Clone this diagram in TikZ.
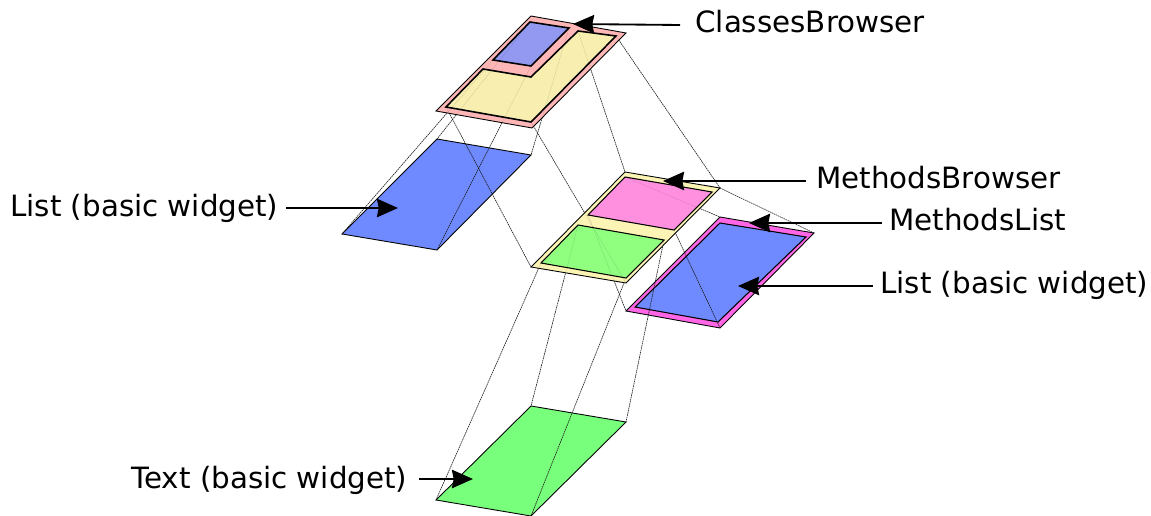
\documentclass[tikz,border=0pt]{standalone}
\usepackage{fontspec}
\setmainfont{DejaVu Sans}
\usetikzlibrary{arrows.meta}
\definecolor{listblue}{HTML}{6F8AFF}
\definecolor{textgreen}{HTML}{78FF7C}
\definecolor{browserpink}{HTML}{FFB6B6}
\definecolor{browseryellow}{HTML}{F8EEB0}
\definecolor{methodyellow}{HTML}{FCF4B4}
\definecolor{innerblue}{HTML}{9399F0}
\definecolor{innerpink}{HTML}{FF90E0}
\definecolor{innergreen}{HTML}{90FF80}
\definecolor{listmagenta}{HTML}{FF66E6}
\tikzset{
	widget/.style={draw=black, line width=0.5pt, line join=miter},
	upper/.style={widget, line width=0.9pt},
	link/.style={line width=0.32pt, dash pattern=on 0.9pt off 0.4pt, black!90},
	callout/.style={line width=1.05pt, -{Stealth[length=12pt, width=10.5pt, inset=1pt]}},
	caption/.style={font=\fontsize{16.7}{16.7}\selectfont, inner sep=0pt, anchor=base west}
}
\begin{document}
\begin{tikzpicture}[x=0.02cm, y=-0.02cm]
	\useasboundingbox (0, 0) rectangle (1151, 516);
	%%%%% corners %%%%%
	\coordinate (classA) at (531, 16);
	\coordinate (classB) at (626, 33);
	\coordinate (classC) at (532, 128);
	\coordinate (classD) at (436, 111);
	\coordinate (thumbA) at (530, 22);
	\coordinate (thumbB) at (569, 28);
	\coordinate (thumbC) at (531, 66);
	\coordinate (thumbD) at (493, 60);
	\coordinate (ylwA) at (483, 69);
	\coordinate (ylwB) at (531, 77);
	\coordinate (ylwC) at (578, 31);
	\coordinate (ylwD) at (616, 36);
	\coordinate (ylwE) at (531, 122);
	\coordinate (ylwF) at (446, 107);
	\coordinate (leftA) at (437, 139);
	\coordinate (leftB) at (531, 155);
	\coordinate (leftC) at (437, 250);
	\coordinate (leftD) at (342, 234);
	\coordinate (methA) at (625, 172);
	\coordinate (methB) at (720, 188);
	\coordinate (methC) at (626, 283);
	\coordinate (methD) at (531, 267);
	\coordinate (pinkA) at (625, 177);
	\coordinate (pinkB) at (712, 192);
	\coordinate (pinkC) at (674, 230);
	\coordinate (pinkD) at (588, 215);
	\coordinate (grnA) at (578, 225);
	\coordinate (grnB) at (664, 240);
	\coordinate (grnC) at (626, 278);
	\coordinate (grnD) at (541, 263);
	\coordinate (mlistA) at (720, 217);
	\coordinate (mlistB) at (814, 233);
	\coordinate (mlistC) at (720, 328);
	\coordinate (mlistD) at (626, 311);
	\coordinate (rightA) at (720, 223);
	\coordinate (rightB) at (806, 237);
	\coordinate (rightC) at (718, 322);
	\coordinate (rightD) at (635, 307);
	\coordinate (textA) at (531, 406);
	\coordinate (textB) at (626, 422);
	\coordinate (textC) at (531, 516);
	\coordinate (textD) at (436, 500);
	
	%%%%% lower widgets %%%%%
	\draw[widget, fill=listblue] (leftA) -- (leftB) -- (leftC) -- (leftD) -- cycle;
	\draw[widget, fill=textgreen] (textA) -- (textB) -- (textC) -- (textD) -- cycle;
	\draw[widget, fill=listmagenta] (mlistA) -- (mlistB) -- (mlistC) -- (mlistD) -- cycle;
	\draw[widget, line width=0.6pt, fill=listblue] (rightA) -- (rightB) -- (rightC) -- (rightD) -- cycle;
	
	%%%%% links %%%%%
	\foreach \up/\down in {thumbA/leftA, thumbB/leftB, thumbC/leftC, thumbD/leftD,
		ylwC/methA, ylwD/methB, ylwE/methC, ylwF/methD,
		pinkA/mlistA, methB/mlistB, pinkC/mlistC, pinkD/mlistD,
		grnA/textA, grnB/textB, grnC/textC, grnD/textD}
		\draw[link] (\up) -- (\down);
	
	%%%%% upper widgets %%%%%
	\draw[widget, fill=browserpink] (classA) -- (classB) -- (classC) -- (classD) -- cycle;
	\draw[upper, fill=innerblue] (thumbA) -- (thumbB) -- (thumbC) -- (thumbD) -- cycle;
	\draw[upper, fill=browseryellow] (ylwA) -- (ylwB) -- (ylwC) -- (ylwD) -- (ylwE) -- (ylwF) -- cycle;
	\draw[widget, fill=methodyellow] (methA) -- (methB) -- (methC) -- (methD) -- cycle;
	\draw[widget, line width=0.6pt, fill=innerpink] (pinkA) -- (pinkB) -- (pinkC) -- (pinkD) -- cycle;
	\draw[widget, line width=0.6pt, fill=innergreen] (grnA) -- (grnB) -- (grnC) -- (grnD) -- cycle;
	
	%%%%% links showing through %%%%%
	\foreach \up/\down in {thumbA/leftA, thumbB/leftB, thumbC/leftC, thumbD/leftD,
		ylwC/methA, ylwD/methB, ylwE/methC, ylwF/methD,
		pinkA/mlistA, pinkC/mlistC, pinkD/mlistD,
		grnA/textA, grnB/textB, grnC/textC, grnD/textD}
		\draw[link, draw opacity=0.15] (\up) -- (\down);
	
	%%%%% labels %%%%%
	\node[caption] (classes) at (695, 33) {ClassesBrowser};
	\node[caption] (methods) at (816, 189) {MethodsBrowser};
	\node[caption] (mlist) at (889, 231) {MethodsList};
	\node[caption] (listr) at (880, 294) {List (basic widget)};
	\node[caption] (listl) at (10, 217) {List (basic widget)};
	\node[caption] (textw) at (131, 488) {Text (basic widget)};
	
	\coordinate (classTip) at (573, 24);
	\coordinate (methTip) at (663, 181);
	\coordinate (mlistTip) at (749, 223);
	\coordinate (rightTip) at (738, 286);
	\coordinate (leftTip) at (398, 208);
	\coordinate (textTip) at (473, 479);
	\draw[callout] (680, 25) -- (classTip);
	\draw[callout] (806, 181) -- (methTip);
	\draw[callout] (882, 223) -- (mlistTip);
	\draw[callout] (873, 286) -- (rightTip);
	\draw[callout] (286, 208) -- (leftTip);
	\draw[callout] (419, 479) -- (textTip);
\end{tikzpicture}
\end{document}
